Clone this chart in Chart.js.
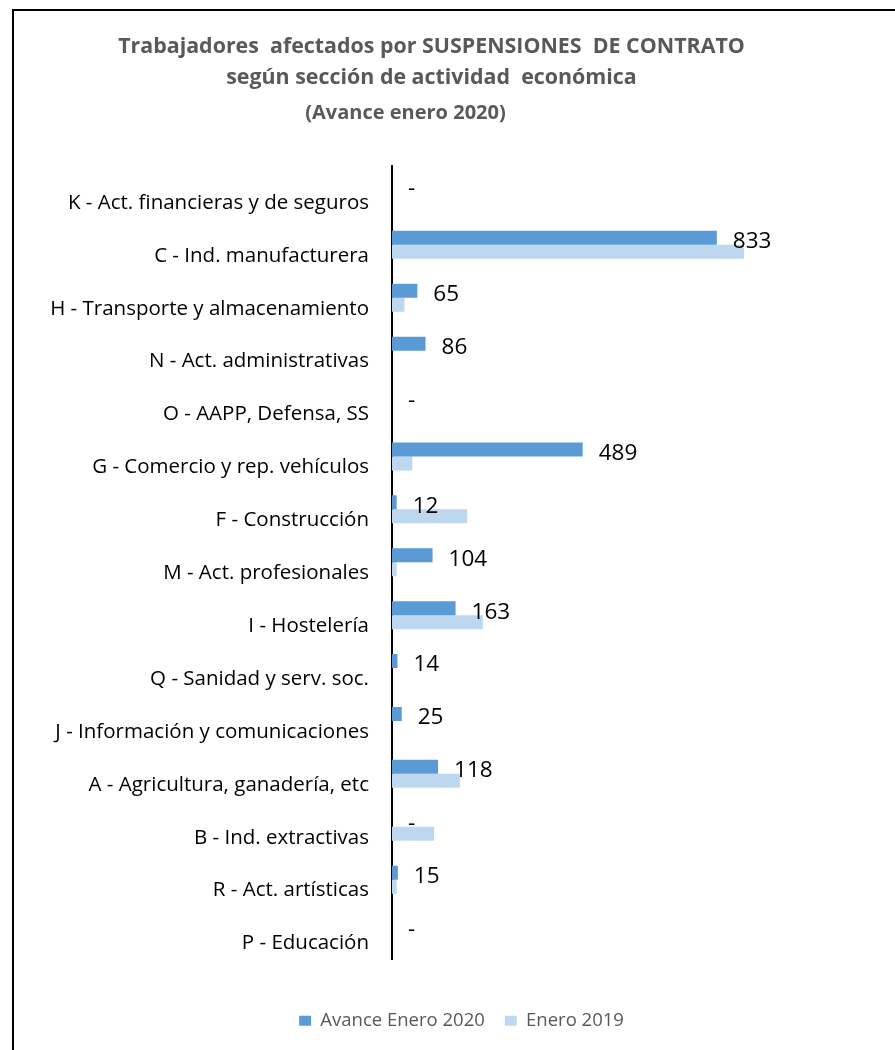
<!DOCTYPE html>
<html lang="es">
<head>
<meta charset="utf-8">
<title>Suspensiones de contrato</title>
<script src="https://cdn.jsdelivr.net/npm/chart.js@4/dist/chart.umd.min.js"></script>
<style>
  html, body { margin: 0; padding: 0; background: #fff; }
  #wrap { width: 895px; height: 1050px; position: relative; }
</style>
</head>
<body>
<div id="wrap"><canvas id="myChart" width="895" height="1050"></canvas></div>
<script>
const categorias = [
  "K - Act. financieras y de seguros",
  "C - Ind. manufacturera",
  "H - Transporte y almacenamiento",
  "N - Act. administrativas",
  "O - AAPP, Defensa, SS",
  "G - Comercio y rep. vehículos",
  "F - Construcción",
  "M - Act. profesionales",
  "I - Hostelería",
  "Q - Sanidad y serv. soc.",
  "J - Información y comunicaciones",
  "A - Agricultura, ganadería, etc",
  "B - Ind. extractivas",
  "R - Act. artísticas",
  "P - Educación"
];
const avanceEnero2020 = [0, 833, 65, 86, 0, 489, 12, 104, 163, 14, 25, 118, 0, 15, 0];
const enero2019 = [0, 903, 32, 0, 0, 52, 193, 12, 233, 0, 0, 174, 108, 12, 0];
// etiquetas de la serie 2020 ("-" cuando no hay dato)
const etiquetas2020 = ["-", "833", "65", "86", "-", "489", "12", "104", "163", "14", "25", "118", "-", "15", "-"];

const tituloTexto = ["Trabajadores  afectados por SUSPENSIONES  DE CONTRATO", "según sección de actividad  económica"];
const subtituloTexto = "(Avance enero 2020)";

const ctx = document.querySelector("#myChart");
const FONT = "'Open Sans', 'Liberation Sans', sans-serif";

// marco del gráfico (borde superior e izquierdo)
const marco = {
  id: "marco",
  beforeDraw(chart) {
    const c = chart.ctx;
    c.save();
    c.strokeStyle = "#000";
    c.lineWidth = 2;
    c.beginPath();
    c.moveTo(13, 1050);
    c.lineTo(13, 10);
    c.lineTo(895, 10);
    c.stroke();
    c.restore();
  }
};

// etiquetas de valor al final de las barras de 2020
const etiquetasValor = {
  id: "etiquetasValor",
  afterDatasetsDraw(chart) {
    const c = chart.ctx;
    const x = chart.scales.x;
    const y = chart.scales.y;
    c.save();
    c.font = "22.5px " + FONT;
    c.fillStyle = "#000";
    c.textAlign = "left";
    c.textBaseline = "middle";
    avanceEnero2020.forEach((v, i) => {
      c.fillText(etiquetas2020[i], x.getPixelForValue(v) + 16, y.getPixelForValue(i) - 3);
    });
    c.restore();
  }
};

// desplaza leyenda y subtítulo como en el original
const desplazar = {
  id: "desplazar",
  afterLayout(chart) {
    chart.boxes.forEach((b) => {
      if (b === chart.legend) {
        b.left += 30;
        b.right += 30;
      } else if (b.options && b.options.text === subtituloTexto) {
        b.left -= 26;
        b.right -= 26;
      }
    });
  }
};

const myChart = new Chart(ctx, {
  type: "bar",
  data: {
    labels: categorias,
    datasets: [
      {
        label: "Avance Enero 2020",
        data: avanceEnero2020,
        backgroundColor: "#5B9BD5",
        borderWidth: 0,
        categoryPercentage: 0.53,
        barPercentage: 1.0,
      },
      {
        label: "Enero 2019",
        data: enero2019,
        backgroundColor: "#BDD7EE",
        borderWidth: 0,
        categoryPercentage: 0.53,
        barPercentage: 1.0,
      },
    ],
  },
  options: {
    indexAxis: "y",
    responsive: false,
    animation: false,
    layout: {
      padding: { top: 0, left: 12, right: 44, bottom: 10 },
    },
    plugins: {
      title: {
        display: true,
        text: tituloTexto,
        color: "#595959",
        font: { family: FONT, size: 21.4, weight: "bold", lineHeight: "31px" },
        padding: { top: 31, bottom: 0 },
      },
      subtitle: {
        display: true,
        text: subtituloTexto,
        color: "#595959",
        font: { family: FONT, size: 20, weight: "bold", lineHeight: "24px" },
        padding: { top: 8, bottom: 40.5 },
      },
      legend: {
        position: "bottom",
        labels: {
          color: "#595959",
          font: { family: FONT, size: 18.5 },
          boxWidth: 12,
          boxHeight: 10,
          padding: 20,
        },
      },
      tooltip: { enabled: false },
    },
    scales: {
      x: {
        min: 0,
        max: 1177,
        grid: { display: false },
        border: { display: false },
        ticks: { display: false },
        afterFit(scale) {
          scale.height = 32.5;
        },
      },
      y: {
        grid: { display: false },
        border: { display: true, color: "#000", width: 2 },
        ticks: {
          color: "#000",
          font: { family: FONT, size: 20.5 },
          padding: 15,
          labelOffset: 11,
        },
        afterFit(scale) {
          scale.width = 380;
        },
      },
    },
  },
  plugins: [marco, etiquetasValor, desplazar],
});
</script>
</body>
</html>
